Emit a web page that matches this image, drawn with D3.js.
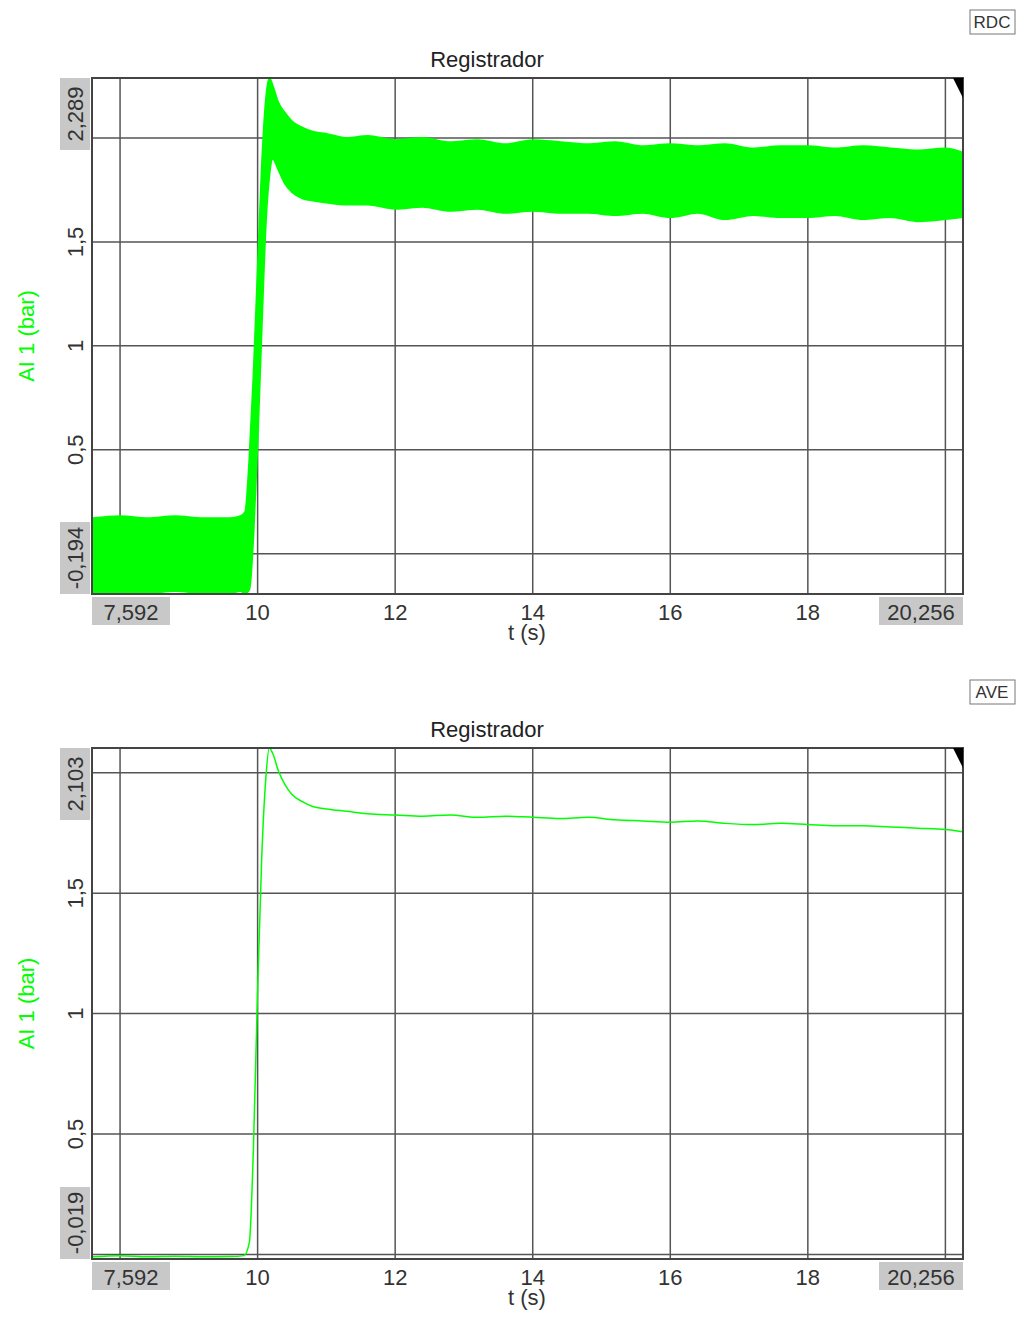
<!DOCTYPE html>
<html><head><meta charset="utf-8">
<script src="https://cdn.jsdelivr.net/npm/d3@7"></script>
<style>body{margin:0;background:#fff}svg{display:block}text{font-family:"Liberation Sans",Arial,sans-serif}</style>
</head><body><svg id="c" width="1024" height="1333"></svg>
<script>
// RDC band (min/max envelope)
var bandT   = [7.60, 8.0, 8.4, 8.8, 9.2, 9.6, 9.75, 9.82, 9.88, 9.94, 10.0, 10.06, 10.12, 10.17, 10.22, 10.3, 10.4, 10.5, 10.65, 10.8, 11.0, 11.3, 11.6, 12.0, 12.4, 12.8, 13.2, 13.6, 14.0, 14.4, 14.8, 15.2, 15.6, 16.0, 16.4, 16.8, 17.2, 17.6, 18.0, 18.4, 18.8, 19.2, 19.6, 20.0, 20.25];
var bandHi  = [0.17, 0.18, 0.17, 0.18, 0.17, 0.17, 0.18, 0.20, 0.45, 0.85, 1.35, 1.85, 2.18, 2.289, 2.25, 2.17, 2.12, 2.08, 2.05, 2.03, 2.02, 2.00, 2.01, 1.99, 2.00, 1.98, 1.99, 1.97, 1.99, 1.98, 1.97, 1.98, 1.96, 1.97, 1.96, 1.97, 1.95, 1.96, 1.96, 1.95, 1.96, 1.95, 1.94, 1.95, 1.93];
var bandLo  = [-0.19, -0.19, -0.19, -0.18, -0.19, -0.19, -0.18, -0.19, -0.17, 0.10, 0.55, 1.10, 1.60, 1.82, 1.90, 1.85, 1.78, 1.74, 1.71, 1.70, 1.69, 1.68, 1.68, 1.66, 1.67, 1.65, 1.66, 1.64, 1.65, 1.64, 1.64, 1.63, 1.64, 1.62, 1.64, 1.61, 1.63, 1.62, 1.62, 1.63, 1.61, 1.62, 1.60, 1.61, 1.62];
// AVE mean line
var aveT = [7.60, 8.0, 8.4, 8.8, 9.2, 9.6, 9.8, 9.88, 9.94, 10.0, 10.06, 10.12, 10.17, 10.22, 10.3, 10.4, 10.5, 10.65, 10.8, 11.0, 11.3, 11.6, 12.0, 12.4, 12.8, 13.2, 13.6, 14.0, 14.4, 14.8, 15.2, 15.6, 16.0, 16.4, 16.8, 17.2, 17.6, 18.0, 18.4, 18.8, 19.2, 19.6, 20.0, 20.25];
var aveV = [-0.01, -0.005, -0.01, -0.008, -0.01, -0.009, -0.005, 0.05, 0.45, 1.1, 1.65, 1.98, 2.103, 2.08, 2.01, 1.95, 1.91, 1.88, 1.86, 1.85, 1.84, 1.83, 1.825, 1.82, 1.825, 1.815, 1.82, 1.815, 1.81, 1.815, 1.805, 1.80, 1.795, 1.80, 1.79, 1.785, 1.79, 1.785, 1.78, 1.78, 1.775, 1.77, 1.765, 1.755];
var xTicks = [8, 10, 12, 14, 16, 18, 20];

var svg = d3.select("#c");
var green = "#00ff00";

function panel(o) {
  var x = d3.scaleLinear().domain([7.592, 20.256]).range([92, 963]);
  var y = d3.scaleLinear().domain([o.ymin, o.ymax]).range([o.bottom, o.top]);
  var g = svg.append("g");
  g.append("rect").attr("x", 970).attr("y", o.top - 68).attr("width", 45).attr("height", 24)
    .attr("fill", "#fff").attr("stroke", "#777");
  g.append("text").attr("x", 992).attr("y", o.top - 50).attr("text-anchor", "middle")
    .attr("font-size", 17).attr("fill", "#333").text(o.tag);
  g.append("text").attr("x", 487).attr("y", o.top - 11).attr("text-anchor", "middle")
    .attr("font-size", 22).attr("fill", "#222").text("Registrador");
  // grid
  g.selectAll(".vx").data(xTicks).enter().append("line")
    .attr("x1", d => x(d)).attr("x2", d => x(d)).attr("y1", o.top).attr("y2", o.bottom)
    .attr("stroke", "#555").attr("stroke-width", 1.5);
  g.selectAll(".hy").data(o.yTicks).enter().append("line")
    .attr("x1", 92).attr("x2", 963).attr("y1", d => y(d)).attr("y2", d => y(d))
    .attr("stroke", "#555").attr("stroke-width", 1.5);
  o.draw(g, x, y);
  g.append("rect").attr("x", 92).attr("y", o.top).attr("width", 871).attr("height", o.bottom - o.top)
    .attr("fill", "none").attr("stroke", "#444").attr("stroke-width", 2);
  g.append("path").attr("d", "M953," + o.top + "L963," + o.top + "L963," + (o.top + 20) + "Z").attr("fill", "#000");
  // x labels
  g.selectAll(".xl").data(xTicks.filter(d => d > 8 && d < 20)).enter().append("text")
    .attr("x", d => x(d)).attr("y", o.bottom + 26).attr("text-anchor", "middle")
    .attr("font-size", 22).attr("fill", "#333").text(d => d);
  [[92, 78, "7,592", "start"], [963, 84, "20,256", "end"]].forEach(function (b) {
    var bx = b[3] === "start" ? b[0] : b[0] - b[1];
    g.append("rect").attr("x", bx).attr("y", o.bottom + 3).attr("width", b[1]).attr("height", 28).attr("fill", "#c8c8c8");
    g.append("text").attr("x", bx + b[1] / 2).attr("y", o.bottom + 26).attr("text-anchor", "middle")
      .attr("font-size", 22).attr("fill", "#333").text(b[2]);
  });
  g.append("text").attr("x", 527).attr("y", o.bottom + 46).attr("text-anchor", "middle")
    .attr("font-size", 22).attr("fill", "#333").text("t (s)");
  // y labels (rotated)
  o.yLabels.forEach(function (d) {
    g.append("text").attr("transform", "translate(83," + y(d[0]) + ") rotate(-90)")
      .attr("text-anchor", "middle").attr("font-size", 22).attr("fill", "#333").text(d[1]);
  });
  [[o.ymax, o.maxLabel, "top"], [o.ymin, o.minLabel, "bottom"]].forEach(function (b) {
    var len = 72, yc = b[2] === "top" ? o.top + len / 2 : o.bottom - len / 2;
    g.append("rect").attr("x", 60).attr("y", yc - len / 2).attr("width", 30).attr("height", len).attr("fill", "#c8c8c8");
    g.append("text").attr("transform", "translate(83," + yc + ") rotate(-90)")
      .attr("text-anchor", "middle").attr("font-size", 22).attr("fill", "#333").text(b[1]);
  });
  g.append("text").attr("transform", "translate(34," + ((o.top + o.bottom) / 2) + ") rotate(-90)")
    .attr("text-anchor", "middle").attr("font-size", 22).attr("fill", green).text("AI 1 (bar)");
}

panel({
  tag: "RDC", top: 78, bottom: 594, ymin: -0.194, ymax: 2.289,
  yTicks: [0, 0.5, 1, 1.5, 2], yLabels: [[0.5, "0,5"], [1, "1"], [1.5, "1,5"]],
  maxLabel: "2,289", minLabel: "-0,194",
  draw: function (g, x, y) {
    var rows = bandT.map((t, i) => ({t: t, hi: bandHi[i], lo: bandLo[i]}));
    g.append("path").datum(rows)
      .attr("d", d3.area().x(d => x(d.t)).y0(d => y(d.lo)).y1(d => y(d.hi)).curve(d3.curveMonotoneX))
      .attr("fill", green).attr("stroke", green).attr("stroke-width", 2);
  }
});
panel({
  tag: "AVE", top: 748, bottom: 1259, ymin: -0.019, ymax: 2.103,
  yTicks: [0, 0.5, 1, 1.5, 2], yLabels: [[0.5, "0,5"], [1, "1"], [1.5, "1,5"]],
  maxLabel: "2,103", minLabel: "-0,019",
  draw: function (g, x, y) {
    var rows = aveT.map((t, i) => ({t: t, v: aveV[i]}));
    g.append("path").datum(rows)
      .attr("d", d3.line().x(d => x(d.t)).y(d => y(d.v)).curve(d3.curveMonotoneX))
      .attr("fill", "none").attr("stroke", green).attr("stroke-width", 1.5);
  }
});
</script></body></html>
